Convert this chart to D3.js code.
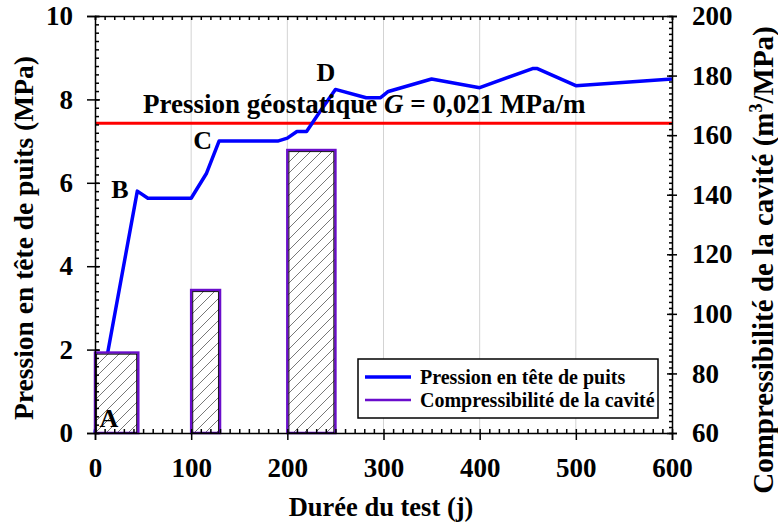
<!DOCTYPE html>
<html>
<head>
<meta charset="utf-8">
<script src="https://cdn.jsdelivr.net/npm/d3@7"></script>
<style>
    body { margin: 0; background: #fff; }
    text { font-family: "Liberation Serif", "Times New Roman", serif; font-weight: bold; fill: #000; }
    .axis path, .axis line { stroke: #000; stroke-width: 1.5; }
</style>
</head>
<body>
<svg id="chart" width="778" height="524"></svg>
<script>
// Pression en tête de puits (left axis, MPa)
const days = [0, 13, 44, 55, 100, 116, 129, 190, 200, 210, 220, 234, 250, 282, 297, 305, 350, 400, 455, 460, 500, 600];
const pressure = [0, 1.9, 5.8, 5.63, 5.63, 6.23, 7.0, 7.0, 7.07, 7.23, 7.23, 7.71, 8.24, 8.04, 8.04, 8.19, 8.49, 8.28, 8.74, 8.74, 8.33, 8.49];

// Compressibilité de la cavité (right axis, m3/MPa)
const barStart = [0, 100, 200];
const barEnd = [45, 130, 250];
const compressibility = [87, 108, 155];

// Pression géostatique
const geoPressure = 7.43;

// Point labels
const pointNames = ["A", "B", "C", "D"];
const pointDays = [14.5, 26, 112, 240];
const pointPressure = [0.14, 5.64, 6.81, 8.43];

// Tick labels
const xTicks = [0, 100, 200, 300, 400, 500, 600];
const leftTicks = [0, 2, 4, 6, 8, 10];
const rightTicks = [60, 80, 100, 120, 140, 160, 180, 200];

const svg = d3.select("#chart");

const x = d3.scaleLinear().domain([0, 600]).range([95, 672]);
const yLeft = d3.scaleLinear().domain([0, 10]).range([433, 16]);
const yRight = d3.scaleLinear().domain([60, 200]).range([433, 16]);

// Hatch pattern for the bars
const defs = svg.append("defs");
const hatch = defs.append("pattern")
    .attr("id", "hatch")
    .attr("patternUnits", "userSpaceOnUse")
    .attr("width", 11)
    .attr("height", 11);
hatch.append("rect").attr("width", 11).attr("height", 11).attr("fill", "#fff");
hatch.append("path")
    .attr("d", "M0,11 L11,0 M-2,2 L2,-2 M9,13 L13,9")
    .attr("stroke", "#555")
    .attr("stroke-width", 0.8);

// Vertical grid lines
svg.append("g")
    .selectAll("line")
    .data(xTicks.filter(function(d) { return d > 0 && d < 600; }))
    .enter()
    .append("line")
    .attr("x1", function(d) { return x(d); })
    .attr("x2", function(d) { return x(d); })
    .attr("y1", yLeft(10))
    .attr("y2", yLeft(0))
    .attr("stroke", "#d3d3d3")
    .attr("stroke-width", 1);

// Red line
svg.append("line")
    .attr("x1", x(0))
    .attr("x2", x(600))
    .attr("y1", yLeft(geoPressure))
    .attr("y2", yLeft(geoPressure))
    .attr("stroke", "#ff0000")
    .attr("stroke-width", 3);

// Blue pressure line
const line = d3.line()
    .x(function(d, i) { return x(days[i]); })
    .y(function(d) { return yLeft(d); });

svg.append("path")
    .datum(pressure)
    .attr("d", line)
    .attr("fill", "none")
    .attr("stroke", "#0000ff")
    .attr("stroke-width", 3.5)
    .attr("stroke-linejoin", "round");

// Bars
const bars = svg.append("g")
    .selectAll("g")
    .data(compressibility)
    .enter()
    .append("g");

bars.append("rect")
    .attr("x", function(d, i) { return x(barStart[i]); })
    .attr("y", function(d) { return yRight(d); })
    .attr("width", function(d, i) { return x(barEnd[i]) - x(barStart[i]); })
    .attr("height", function(d) { return yRight(60) - yRight(d); })
    .attr("fill", "url(#hatch)")
    .attr("stroke", "#6a0dcc")
    .attr("stroke-width", 2.5);

bars.append("rect")
    .attr("x", function(d, i) { return x(barStart[i]) + 1.6; })
    .attr("y", function(d) { return yRight(d) + 1.6; })
    .attr("width", function(d, i) { return x(barEnd[i]) - x(barStart[i]) - 3.2; })
    .attr("height", function(d) { return yRight(60) - yRight(d) - 1.6; })
    .attr("fill", "none")
    .attr("stroke", "#000")
    .attr("stroke-width", 0.9);

// Axes
function styleAxis(g, size) {
    g.attr("class", "axis").attr("font-family", null);
    g.selectAll("text")
        .style("font-family", "'Liberation Serif', serif")
        .style("font-weight", "bold")
        .style("font-size", size + "px")
        .attr("fill", "#000");
}

// Left
svg.append("g")
    .attr("transform", "translate(95,0)")
    .call(d3.axisLeft(yLeft).tickValues(leftTicks).tickSize(8).tickPadding(14))
    .call(function(g) { styleAxis(g, 27); });
svg.append("g")
    .attr("transform", "translate(95,0)")
    .call(d3.axisRight(yLeft).tickValues(d3.range(0, 10.01, 0.2)).tickSize(4).tickFormat(""))
    .call(function(g) { styleAxis(g, 10); g.select(".domain").remove(); });
svg.append("g")
    .attr("transform", "translate(95,0)")
    .call(d3.axisRight(yLeft).tickValues(leftTicks).tickSize(5).tickFormat(""))
    .call(function(g) { styleAxis(g, 10); g.select(".domain").remove(); });

// Bottom
svg.append("g")
    .attr("transform", "translate(0,433)")
    .call(d3.axisBottom(x).tickValues(xTicks).tickSize(7).tickPadding(18))
    .call(function(g) { styleAxis(g, 27); });
svg.append("g")
    .attr("transform", "translate(0,433)")
    .call(d3.axisTop(x).tickValues(d3.range(0, 601, 10)).tickSize(4).tickFormat(""))
    .call(function(g) { styleAxis(g, 10); g.select(".domain").remove(); });

// Top
svg.append("g")
    .attr("transform", "translate(0,16)")
    .call(d3.axisBottom(x).tickValues(d3.range(0, 601, 10)).tickSize(4).tickFormat(""))
    .call(function(g) { styleAxis(g, 10); });

// Right
svg.append("g")
    .attr("transform", "translate(672,0)")
    .call(d3.axisRight(yRight).tickValues(rightTicks).tickSize(5).tickPadding(15))
    .call(function(g) { styleAxis(g, 27); });
svg.append("g")
    .attr("transform", "translate(672,0)")
    .call(d3.axisLeft(yRight).tickValues(d3.range(60, 200.1, 2)).tickSize(3).tickFormat(""))
    .call(function(g) { styleAxis(g, 10); g.select(".domain").remove(); });
svg.append("g")
    .attr("transform", "translate(672,0)")
    .call(d3.axisLeft(yRight).tickValues(rightTicks).tickSize(5).tickFormat(""))
    .call(function(g) { styleAxis(g, 10); g.select(".domain").remove(); });

// Point labels
svg.append("g")
    .selectAll("text")
    .data(pointNames)
    .enter()
    .append("text")
    .attr("x", function(d, i) { return x(pointDays[i]); })
    .attr("y", function(d, i) { return yLeft(pointPressure[i]); })
    .attr("text-anchor", "middle")
    .style("font-size", "26px")
    .text(function(d) { return d; });

// Geostatic annotation
const geo = svg.append("text")
    .attr("x", x(50))
    .attr("y", yLeft(7.67))
    .style("font-size", "27px");
geo.append("tspan").text("Pression géostatique ");
geo.append("tspan").style("font-style", "italic").text("G");
geo.append("tspan").text(" = 0,021 MPa/m");

// Legend
const legend = svg.append("g");
legend.append("rect")
    .attr("x", 358).attr("y", 359)
    .attr("width", 300).attr("height", 59)
    .attr("fill", "#fff")
    .attr("stroke", "#000")
    .attr("stroke-width", 1.5);
legend.append("line")
    .attr("x1", 365).attr("x2", 411).attr("y1", 377).attr("y2", 377)
    .attr("stroke", "#0000ff").attr("stroke-width", 3.5);
legend.append("line")
    .attr("x1", 365).attr("x2", 411).attr("y1", 400).attr("y2", 400)
    .attr("stroke", "#6a0dcc").attr("stroke-width", 2.5);
legend.append("text")
    .attr("x", 420).attr("y", 384)
    .style("font-size", "20px")
    .text("Pression en tête de puits");
legend.append("text")
    .attr("x", 420).attr("y", 407)
    .style("font-size", "20px")
    .text("Compressibilité de la cavité");

// Axis titles
svg.append("text")
    .attr("x", 381).attr("y", 516)
    .attr("text-anchor", "middle")
    .style("font-size", "26.5px")
    .text("Durée du test (j)");

svg.append("text")
    .attr("transform", "translate(33,238) rotate(-90)")
    .attr("text-anchor", "middle")
    .style("font-size", "27.5px")
    .text("Pression en tête de puits (MPa)");

const rightTitle = svg.append("text")
    .attr("transform", "translate(773,260) rotate(-90)")
    .attr("text-anchor", "middle")
    .style("font-size", "29px");
rightTitle.append("tspan").text("Compressibilité de la cavité (m");
rightTitle.append("tspan").attr("dy", -11).style("font-size", "18px").text("3");
rightTitle.append("tspan").attr("dy", 11).text("/MPa)");
</script>
</body>
</html>
